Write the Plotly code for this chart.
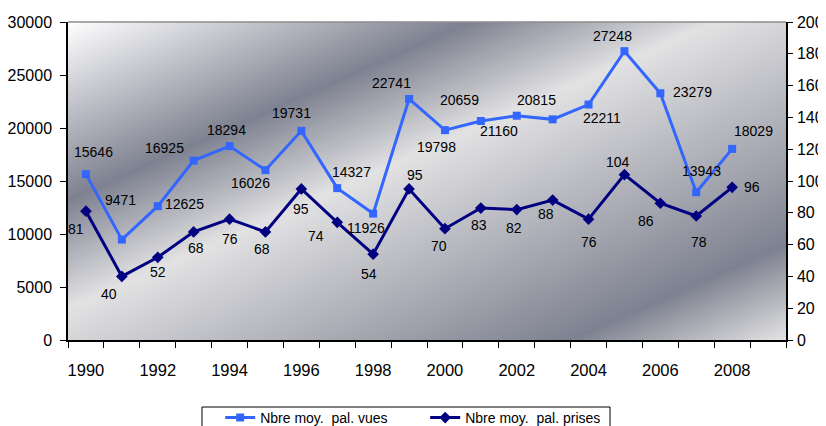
import base64
import plotly.graph_objects as go

# ---- data ----
years = list(range(1990, 2009))
vues = [15646, 9471, 12625, 16925, 18294, 16026, 19731, 14327, 11926, 22741,
        19798, 20659, 21160, 20815, 22211, 27248, 23279, 13943, 18029]
prises = [81, 40, 52, 68, 76, 68, 95, 74, 54, 95,
          70, 83, 82, 88, 76, 104, 86, 78, 96]
tick_years = list(range(1990, 2009, 2))
tick_labels = [str(y) for y in tick_years]
left_ticks = list(range(0, 30001, 5000))
left_labels = [str(v) for v in left_ticks]
right_ticks = list(range(0, 201, 20))
right_labels = [str(v) for v in right_ticks]
name_vues = "Nbre moy.\u00a0 pal. vues"
name_prises = "Nbre moy.\u00a0 pal. prises"

# ---- label offsets (pixels, dy positive = down) ----
vues_dx = [8, -1, 27, -29, -3, -15, -10, 14, -7, -18, -8, -21, -18, -16, 13, -12, 32, 5, 21]
vues_dy = [-22, -40, -2, -13, -16, 13, -18, -16, 14, -16, 17, -21, 15, -19, 13, -15, -1, -21, -18]
prises_dx = [-10, -13, 0, 2, 0, -3, 0, -21, -4, 6, -6, -2, -3, -7, 0, -6, -14, 3, 20]
prises_dy = [18, 18, 15, 16, 20, 17, 20, 14, 20, -14, 17, 17, 18, 14, 23, -13, 18, 26, 0]

FONT = "Liberation Sans, Arial, sans-serif"
C_VUES = "#3366ff"
C_PRISES = "#000080"

fig = go.Figure()
fig.add_trace(go.Scatter(
    x=years, y=vues, name=name_vues, mode="lines+markers",
    line=dict(color=C_VUES, width=3),
    marker=dict(symbol="square", size=8, color=C_VUES),
    yaxis="y"))
fig.add_trace(go.Scatter(
    x=years, y=prises, name=name_prises, mode="lines+markers",
    line=dict(color=C_PRISES, width=3),
    marker=dict(symbol="diamond", size=9, color=C_PRISES),
    yaxis="y2"))

annotations = []
for x, v, dx, dy in zip(years, vues, vues_dx, vues_dy):
    annotations.append(dict(x=x, y=v, xref="x", yref="y", text=str(v),
                            showarrow=False, xshift=dx, yshift=-dy,
                            font=dict(family=FONT, size=14, color="black")))
for x, v, dx, dy in zip(years, prises, prises_dx, prises_dy):
    annotations.append(dict(x=x, y=v, xref="x", yref="y2", text=str(v),
                            showarrow=False, xshift=dx, yshift=-dy,
                            font=dict(family=FONT, size=14, color="black")))

# gradient background (Excel "silver"-like diagonal)
svg = ('<svg xmlns="http://www.w3.org/2000/svg" width="718" height="318" '
       'viewBox="0 0 100 100" preserveAspectRatio="none">'
       '<defs><linearGradient id="g" x1="0" y1="0" x2="1" y2="1">'
       '<stop offset="0" stop-color="#ffffff"/>'
       '<stop offset="0.28" stop-color="#7e8190"/>'
       '<stop offset="0.45" stop-color="#e2e2e3"/>'
       '<stop offset="0.85" stop-color="#7e8190"/>'
       '<stop offset="1" stop-color="#e4e4e4"/>'
       '</linearGradient></defs>'
       '<rect x="0" y="0" width="100" height="100" fill="url(#g)"/></svg>')
src = "data:image/svg+xml;base64," + base64.b64encode(svg.encode()).decode()

fig.update_layout(
    width=818, height=418,
    margin=dict(l=60, r=40, t=14, b=86, autoexpand=False),
    paper_bgcolor="white", plot_bgcolor="rgba(0,0,0,0)",
    font=dict(family=FONT, size=16, color="black"),
    showlegend=True,
    legend=dict(orientation="h", xref="container", yref="container",
                x=0.51, xanchor="center", y=0.0191, yanchor="middle",
                borderwidth=0, bgcolor="rgba(0,0,0,0)",
                font=dict(family=FONT, size=14, color="black"),
                entrywidth=160, entrywidthmode="pixels"),
    xaxis=dict(range=[1989.5, 2009.5], tickmode="array", tickvals=tick_years,
               ticktext=tick_labels, ticks="outside", ticklen=14,
               tickcolor="rgba(0,0,0,0)", showgrid=False, zeroline=False,
               showline=True, linecolor="black", linewidth=1.5,
               tickfont=dict(size=16.5), automargin=False,
               minor=dict(tickmode="array", tickvals=[1989.5 + i for i in range(21)],
                          ticks="outside", ticklen=6, tickcolor="black",
                          tickwidth=1, showgrid=False)),
    yaxis=dict(range=[0, 30000], tickmode="array",
               tickvals=left_ticks, ticktext=left_labels,
               ticks="outside", ticklen=6, tickcolor="black",
               showgrid=False, zeroline=False, showline=True,
               linecolor="black", linewidth=1.5, tickfont=dict(size=16),
               ticklabelstandoff=5, automargin=False),
    yaxis2=dict(range=[0, 200], overlaying="y", side="right", tickmode="array",
                tickvals=right_ticks, ticktext=right_labels,
                ticks="outside", ticklen=5, tickcolor="black",
                showgrid=False, zeroline=False, showline=True,
                linecolor="black", linewidth=1.5, tickfont=dict(size=16),
                ticklabelstandoff=1, automargin=False),
    annotations=annotations,
    images=[dict(source=src, xref="paper", yref="paper", x=0, y=1,
                 sizex=1, sizey=1, xanchor="left", yanchor="top",
                 sizing="stretch", layer="below")],
    shapes=[dict(type="line", xref="paper", yref="paper", x0=0, x1=1, y0=1, y1=1,
                 line=dict(color="#8c8c8c", width=1.5)),
            dict(type="rect", xref="paper", yref="paper",
                 x0=0.1866, x1=0.7549, y0=-0.2107, y1=-0.32,
                 line=dict(color="black", width=1), fillcolor="white",
                 layer="below")],
)

fig.write_html("out.html")
